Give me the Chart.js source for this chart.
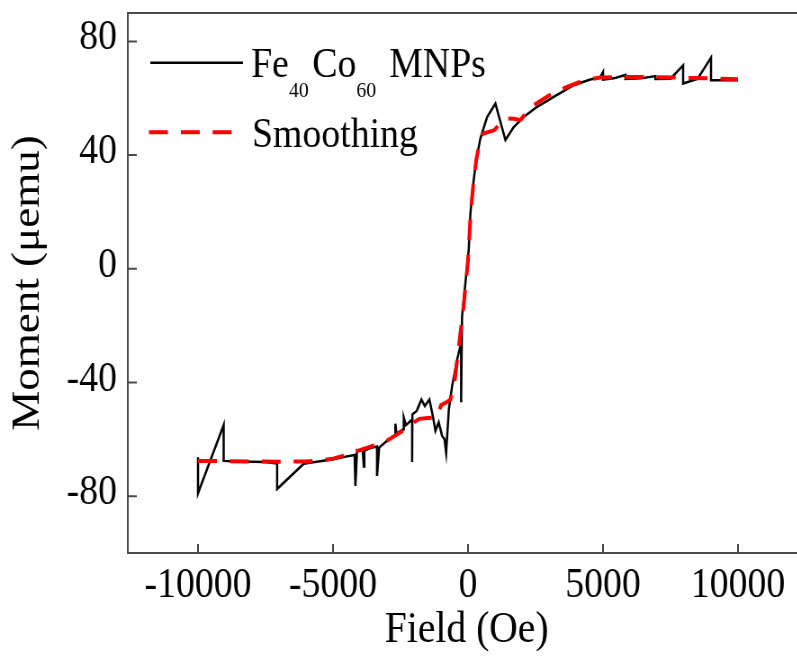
<!DOCTYPE html>
<html>
<head>
<meta charset="utf-8">
<script src="https://cdn.jsdelivr.net/npm/chart.js@4.4.1/dist/chart.umd.min.js"></script>
<style>
  html, body { margin: 0; padding: 0; overflow: hidden; background: #fff; }
  #wrap { width: 797px; height: 657px; overflow: hidden; }
  /* the source figure is slightly squeezed horizontally */
  #chart { display: block; transform: scaleX(0.9); transform-origin: 0 0; }
</style>
</head>
<body>
<div id="wrap"><canvas id="chart" width="905" height="657"></canvas></div>
<script>
// measured M(H) curve (Oe, µemu)
const measuredField = [
  -10000, -10000, -9050, -9050, -8500, -8000, -7500, -7070, -7070, -6085,
  -5800, -5540, -4985, -4480, -4200, -4170, -4110, -3900, -3860, -3840,
  -3600, -3370, -3370, -3290, -3000, -2700, -2690, -2650, -2400, -2380,
  -2300, -2070, -2070, -2060, -1900, -1725, -1600, -1430, -1300, -1207,
  -1085, -960, -870, -810, -710, -590, -403, -280, -255, -255,
  -220, -96, 26, 89, 211, 300, 459, 707, 1015, 1385,
  1693, 2063, 2559, 3174, 3915, 4500, 4904, 5000, 5000, 5400,
  5830, 5830, 6400, 6940, 6940, 7500, 7967, 7967, 8500, 9000,
  9000, 9500, 10000
];
const measuredMoment = [
  -66.3, -79, -55, -67.6, -67.8, -67.9, -68, -68.5, -77.5, -68.6,
  -68.2, -67.8, -67, -66, -65.5, -76.4, -63.8, -64, -69.6, -64,
  -63, -62.5, -72.9, -62.9, -60.5, -58.5, -54.5, -58, -56.5, -52.3,
  -55, -53, -68, -51.2, -50, -46, -48.3, -46, -52, -57,
  -54, -58.8, -60, -64.7, -49.5, -41.3, -32, -27, -28.4, -47,
  -16.7, -5, 6.7, 19.5, 31.2, 38, 45.9, 53.4, 58.1, 45.3,
  49.9, 53.4, 57, 60.5, 64.6, 66.5, 67.5, 69.2, 66.6, 67,
  68.2, 66.8, 67, 67.8, 66.8, 66.9, 71.6, 65.2, 66.8, 74.3,
  66.3, 66.3, 66.3
];

// smoothed curve
const smoothField = [
  -10000, -9000, -8000, -7000, -6000, -5500, -5000, -4500, -4000, -3500,
  -3000, -2500, -2000, -1800, -1500, -1150, -1000, -800, -650, -500,
  -400, -300, -160, 0, 100, 200, 300, 460, 550, 700,
  900, 1000, 1200, 1450, 1700, 1940, 2200, 2425, 3000, 3670,
  4300, 4900, 6000, 7000, 8000, 9000, 10000
];
const smoothMoment = [
  -67.6, -67.7, -67.8, -67.9, -67.8, -67.5, -66.8, -65.5, -63.8, -62.2,
  -60.5, -57.5, -54, -52.8, -52.5, -52.3, -48, -47, -46, -40,
  -32, -24, -13, 3, 20, 30, 38, 46, 47.5, 48,
  48.5, 49, 51.5, 52.9, 52.8, 52.3, 55.5, 57.5, 61, 64,
  66.3, 67.3, 67.5, 67.4, 67.2, 67, 66.7
];

const xTicks = [-10000, -5000, 0, 5000, 10000];
const yTicks = [-80, -40, 0, 40, 80];

const SERIF = '"Liberation Serif", "Times New Roman", serif';

// box around the plot and inward tick marks
const framePlugin = {
  id: 'frame',
  afterDatasetsDraw(chart) {
    const { ctx, chartArea: a, scales: { x, y } } = chart;
    ctx.save();
    ctx.strokeStyle = '#4a4a4a';
    ctx.lineWidth = 2;
    ctx.strokeRect(a.left, a.top, a.right - a.left, a.bottom - a.top);
    ctx.beginPath();
    xTicks.forEach(v => {
      const px = x.getPixelForValue(v);
      ctx.moveTo(px, a.bottom);
      ctx.lineTo(px, a.bottom - 9);
    });
    yTicks.forEach(v => {
      const py = y.getPixelForValue(v);
      ctx.moveTo(a.left, py);
      ctx.lineTo(a.left + 10, py);
    });
    ctx.stroke();
    ctx.restore();
  }
};

// legend with subscripts (Fe40Co60)
const legendPlugin = {
  id: 'subLegend',
  afterDraw(chart) {
    const ctx = chart.ctx;
    ctx.save();
    ctx.lineCap = 'butt';

    ctx.strokeStyle = '#000';
    ctx.lineWidth = 2.5;
    ctx.beginPath();
    ctx.moveTo(167, 62.7);
    ctx.lineTo(270, 62.7);
    ctx.stroke();

    ctx.strokeStyle = '#ff0000';
    ctx.lineWidth = 4;
    ctx.setLineDash([21, 14.4]);
    ctx.beginPath();
    ctx.moveTo(165.5, 132.3);
    ctx.lineTo(258.5, 132.3);
    ctx.stroke();
    ctx.setLineDash([]);

    ctx.fillStyle = '#000';
    ctx.textBaseline = 'alphabetic';
    ctx.textAlign = 'left';
    const big = '42px ' + SERIF;
    const small = '22px ' + SERIF;
    const parts = [
      ['Fe', big, 0, 0], ['40', small, 20, 4], ['Co', big, 0, 0],
      ['60', small, 20, 4], [' MNPs', big, 0, 0]
    ];
    let x = 279;
    parts.forEach(([t, f, dy, gap]) => {
      ctx.font = f;
      ctx.fillText(t, x, 77 + dy);
      x += ctx.measureText(t).width + gap;
    });
    ctx.font = big;
    ctx.fillText('Smoothing', 280, 146.6);
    ctx.restore();
  }
};

const toPoints = (xs, ys) => xs.map((v, i) => ({ x: v, y: ys[i] }));

new Chart(document.getElementById('chart'), {
  type: 'line',
  data: {
    datasets: [
      {
        label: 'Smoothing',
        data: toPoints(smoothField, smoothMoment),
        borderColor: '#ff0000',
        borderWidth: 4,
        borderDash: [21, 14.4],
        pointRadius: 0,
        tension: 0,
        order: 0
      },
      {
        label: 'Fe40Co60 MNPs',
        data: toPoints(measuredField, measuredMoment),
        borderColor: '#000000',
        borderWidth: 2.5,
        pointRadius: 0,
        tension: 0,
        order: 1
      }
    ]
  },
  options: {
    responsive: false,
    animation: false,
    devicePixelRatio: 1,
    layout: { padding: { top: 13, right: 10, bottom: 0, left: 0 } },
    plugins: { legend: { display: false }, tooltip: { enabled: false } },
    scales: {
      x: {
        type: 'linear',
        min: -12600,
        max: 12500,
        afterBuildTicks: s => { s.ticks = xTicks.map(v => ({ value: v })); },
        afterFit: s => { s.height = 104; s.paddingLeft = 0; s.paddingRight = 0; },
        grid: { display: false, drawTicks: false },
        border: { display: false },
        ticks: {
          color: '#000',
          padding: 8,
          maxRotation: 0,
          autoSkip: false,
          font: { family: SERIF, size: 42 },
          callback: v => String(v)
        },
        title: {
          display: true,
          text: 'Field (Oe)',
          color: '#000',
          font: { family: SERIF, size: 44 },
          padding: { top: 0, bottom: 0.5 }
        }
      },
      y: {
        type: 'linear',
        min: -100,
        max: 90,
        afterBuildTicks: s => { s.ticks = yTicks.map(v => ({ value: v })); },
        afterFit: s => { s.width = 142; s.paddingTop = 0; s.paddingBottom = 0; },
        grid: { display: false, drawTicks: false },
        border: { display: false },
        ticks: {
          color: '#000',
          padding: 12,
          labelOffset: -3,
          autoSkip: false,
          font: { family: SERIF, size: 42 },
          callback: v => String(v)
        },
        title: {
          display: true,
          text: 'Moment (μemu)',
          color: '#000',
          font: { family: SERIF, size: 45 },
          padding: { top: 4.5, bottom: 0 }
        }
      }
    }
  },
  plugins: [framePlugin, legendPlugin]
});
</script>
</body>
</html>
